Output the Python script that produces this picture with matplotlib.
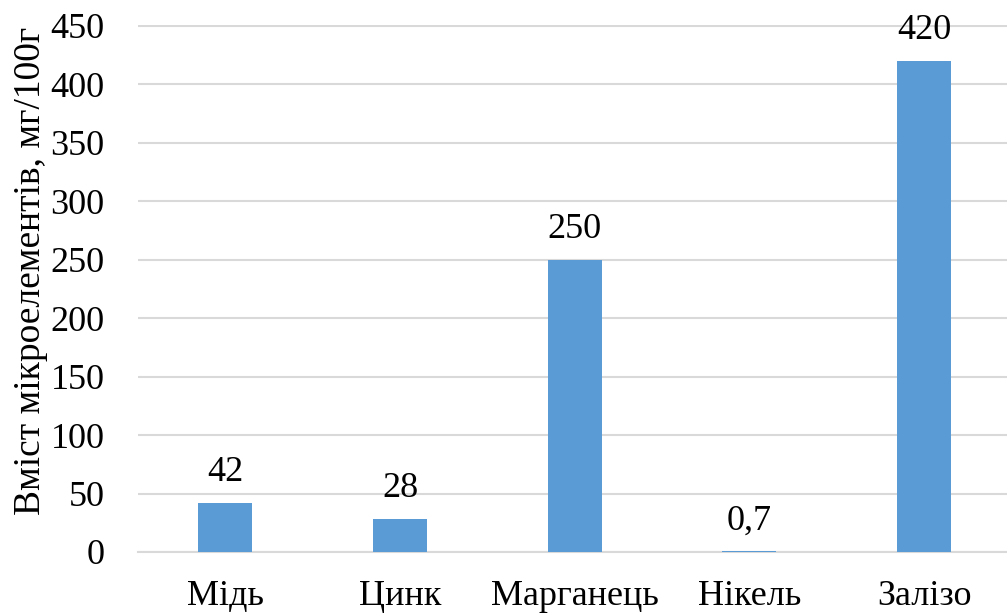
import matplotlib
matplotlib.use("Agg")
from matplotlib import pyplot as plt

elements = ["Мідь", "Цинк", "Марганець", "Нікель", "Залізо"]
content = [42, 28, 250, 0.7, 420]
value_labels = ["42", "28", "250", "0,7", "420"]
y_ticks = [0, 50, 100, 150, 200, 250, 300, 350, 400, 450]

plt.rcParams["font.family"] = ["Liberation Serif", "DejaVu Serif"]

fig = plt.figure(figsize=(10.07, 6.14), dpi=100)
ax = fig.add_axes([138 / 1007, 62 / 614, (1007 - 138) / 1007, (552 - 24.8) / 614])

x = range(len(elements))
bars = ax.bar(x, content, width=0.31, color="#5B9BD5", zorder=3)

for b, lab in zip(bars, value_labels):
    ax.annotate(lab, (b.get_x() + b.get_width() / 2, b.get_height()),
                xytext=(0, 10), textcoords="offset points",
                ha="center", va="bottom", fontsize=26)

ax.set_xlim(-0.5, 4.475)
ax.set_ylim(0, 451)
ax.set_yticks(y_ticks)
ax.set_xticks(list(x))
ax.set_xticklabels(elements)
ax.tick_params(axis="both", length=0, labelsize=26)
ax.tick_params(axis="y", pad=24)
ax.tick_params(axis="x", pad=20)
ax.yaxis.grid(True, color="#D9D9D9", lw=1.5, zorder=0)
for s in ["top", "right", "left"]:
    ax.spines[s].set_visible(False)
ax.spines["bottom"].set_color("#D9D9D9")
ax.spines["bottom"].set_linewidth(1.5)
ax.set_ylabel("Вміст мікроелементів, мг/100г", fontsize=27)
ax.yaxis.set_label_coords(-0.103, 0.533)

fig.savefig("out.png", dpi=100)
